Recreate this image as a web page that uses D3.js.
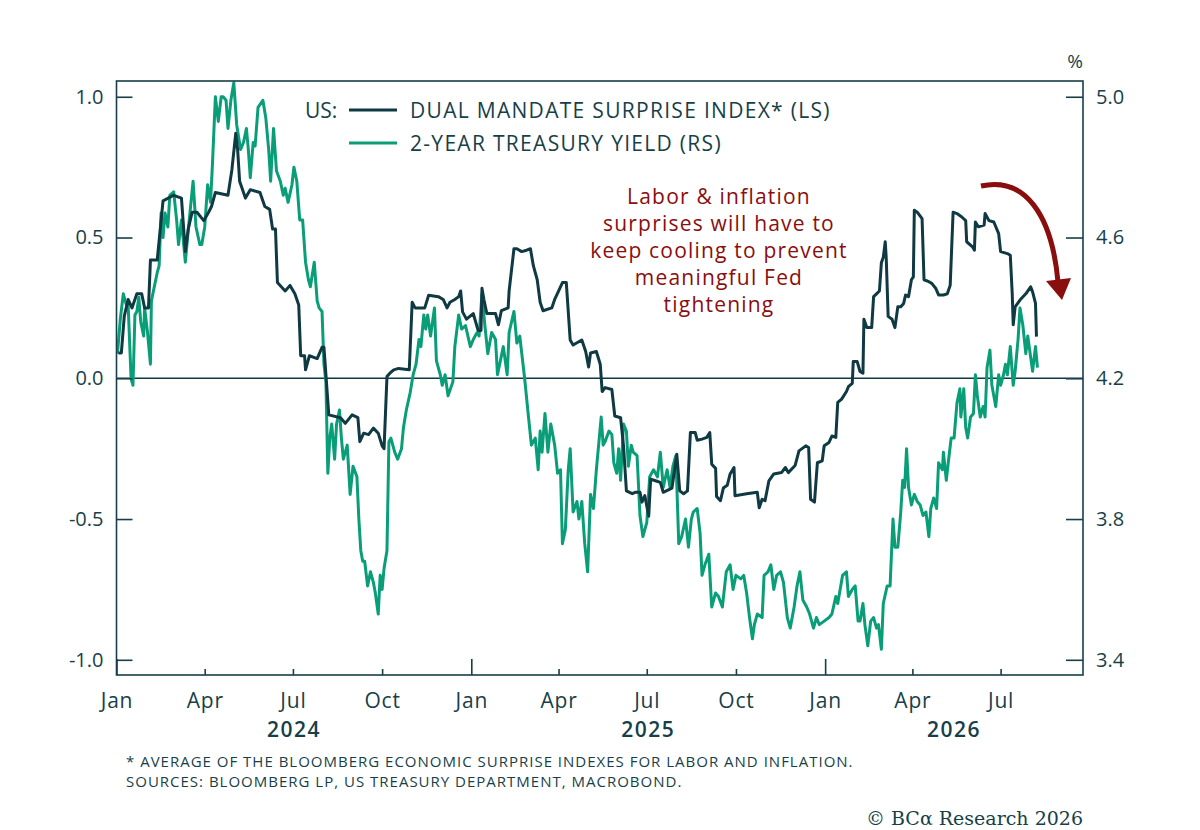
<!doctype html>
<html lang="en">
<head>
<meta charset="utf-8">
<title>US: Dual mandate surprise index vs 2-year Treasury yield</title>
<script src="https://d3js.org/d3.v7.min.js"></script>
<style>
  body { margin: 0; background: #fff; }
  text { font-family: "Open Sans", "Noto Sans", sans-serif; fill: #173f48; }
  .axis path { display: none; }
  .axis line { stroke: #173f48; stroke-width: 1.6px; }
  .axis text { font-size: 20px; fill: #173f48; font-family: "Open Sans", sans-serif; }
  .xaxis text { font-size: 21px; letter-spacing: 0.8px; }
</style>
</head>
<body>
<div id="chart"></div>
<script>
// ---- data (days since 1 Jan 2024) ----
// dual mandate surprise index, left scale
var darkDay = [2,5,8,12,16,21,26,29,33,35,42,48,59,67,71,74,78,83,90,95,98,102,115,119,123,125,127,133,138,148,153,158,161,164,166,174,179,184,188,190,194,195,199,207,212,214,219,231,236,243,249,251,255,260,265,270,274,276,279,282,286,291,302,305,308,318,322,332,337,341,344,349,353,355,357,361,368,373,376,377,379,382,391,394,397,404,405,410,413,418,423,427,430,434,437,440,449,452,456,460,464,468,471,480,484,487,489,495,499,501,504,511,514,520,523,526,532,535,540,542,545,549,551,556,561,564,573,578,581,585,589,592,597,599,604,609,612,614,618,619,623,626,630,633,637,638,650,661,663,666,669,673,678,686,690,693,700,704,711,714,716,720,723,728,730,735,738,742,744,748,753,755,759,760,764,767,770,771,774,779,781,784,787,789,791,793,794,796,800,803,806,809,812,814,817,820,822,823,826,831,833,838,841,845,848,853,857,860,863,867,872,876,877,883,885,886,889,895,896,900,905,910,912,919,922,924,925,927,932,938,943,945,948,949];
var darkVal = [0.09,0.09,0.22,0.28,0.25,0.30,0.30,0.25,0.25,0.42,0.42,0.63,0.65,0.64,0.45,0.53,0.59,0.59,0.56,0.59,0.61,0.66,0.65,0.74,0.87,0.81,0.70,0.64,0.67,0.66,0.61,0.60,0.53,0.53,0.34,0.31,0.33,0.30,0.26,0.08,0.08,0.03,0.08,0.07,0.11,0.11,-0.13,-0.14,-0.16,-0.13,-0.14,-0.225,-0.195,-0.20,-0.177,-0.195,-0.24,-0.25,0.006,0.018,0.03,0.035,0.03,0.27,0.25,0.25,0.295,0.29,0.28,0.25,0.27,0.28,0.29,0.31,0.236,0.21,0.23,0.17,0.17,0.32,0.28,0.23,0.23,0.19,0.24,0.25,0.31,0.46,0.46,0.45,0.455,0.46,0.40,0.35,0.27,0.24,0.25,0.28,0.31,0.34,0.34,0.136,0.118,0.136,0.095,0.04,0.09,0.095,0.05,-0.047,-0.033,-0.04,-0.134,-0.14,-0.24,-0.40,-0.41,-0.405,-0.405,-0.44,-0.417,-0.49,-0.358,-0.364,-0.37,-0.405,-0.39,-0.27,-0.40,-0.41,-0.40,-0.193,-0.193,-0.22,-0.216,-0.21,-0.193,-0.305,-0.32,-0.42,-0.435,-0.39,-0.38,-0.34,-0.317,-0.417,-0.41,-0.405,-0.46,-0.43,-0.435,-0.364,-0.34,-0.335,-0.317,-0.335,-0.31,-0.258,-0.24,-0.246,-0.43,-0.44,-0.30,-0.293,-0.24,-0.228,-0.205,-0.21,-0.086,-0.074,-0.047,-0.03,-0.018,0.06,0.06,0.024,0.018,0.21,0.18,0.18,0.29,0.30,0.31,0.41,0.43,0.485,0.43,0.22,0.21,0.18,0.254,0.254,0.266,0.296,0.29,0.35,0.36,0.597,0.59,0.567,0.35,0.343,0.337,0.32,0.296,0.296,0.30,0.33,0.59,0.585,0.573,0.56,0.485,0.467,0.455,0.555,0.538,0.544,0.585,0.56,0.555,0.514,0.45,0.443,0.437,0.30,0.19,0.254,0.278,0.30,0.325,0.307,0.266,0.148];

// 2-year treasury yield, %, right scale
var greenDay = [1,4,7,10,12,15,17,19,21,23,25,28,29,32,35,36,39,42,44,46,48,50,53,55,59,62,64,67,71,74,79,82,86,88,91,94,97,99,102,105,108,110,113,115,118,121,124,128,131,134,136,138,141,143,146,151,154,157,159,162,165,169,172,174,177,181,183,186,189,192,195,198,200,204,207,209,212,214,216,218,220,222,225,227,230,232,234,238,241,244,248,250,252,254,256,259,262,265,267,270,272,274,276,279,281,283,287,290,294,296,299,303,306,309,312,314,317,319,321,324,328,330,334,336,339,342,347,349,353,356,360,365,368,372,374,377,380,383,387,391,393,396,399,403,405,410,413,416,421,425,428,432,435,437,439,442,445,448,452,455,458,460,463,466,468,471,475,477,480,483,486,489,492,495,498,500,502,504,508,511,513,516,518,520,523,526,528,531,533,537,540,543,547,550,554,558,561,564,568,571,574,577,580,583,587,590,593,595,599,602,604,607,611,614,618,621,625,629,633,636,639,644,647,650,653,656,658,661,666,668,672,675,678,681,685,688,692,695,699,702,705,708,712,715,719,722,725,730,735,738,742,744,749,753,755,759,762,765,767,770,772,775,778,781,784,786,789,791,795,798,801,803,806,809,811,813,815,817,820,823,826,829,832,835,838,840,843,846,848,852,853,856,858,861,864,867,870,871,874,876,878,881,884,886,888,891,894,896,898,901,903,907,910,912,915,917,919,922,925,927,930,932,935,938,940,943,945,948,950];
var greenVal = [4.27,4.37,4.44,4.41,4.41,4.20,4.18,4.38,4.39,4.43,4.36,4.32,4.40,4.33,4.24,4.42,4.46,4.50,4.52,4.67,4.60,4.67,4.63,4.72,4.73,4.65,4.58,4.65,4.53,4.62,4.76,4.63,4.58,4.58,4.63,4.75,4.70,4.81,5.00,4.93,5.00,5.00,4.99,4.91,4.99,5.04,4.92,4.85,4.87,4.91,4.85,4.77,4.87,4.86,4.97,4.99,4.94,4.85,4.76,4.91,4.79,4.76,4.72,4.74,4.70,4.75,4.80,4.76,4.65,4.65,4.53,4.48,4.46,4.53,4.42,4.40,4.39,4.24,4.19,3.93,4.03,4.07,3.97,4.07,4.11,4.03,3.97,4.01,3.87,3.95,3.92,3.80,3.71,3.68,3.68,3.61,3.65,3.62,3.59,3.53,3.64,3.60,3.66,3.71,4.02,4.03,3.99,3.97,4.00,4.06,4.11,4.16,4.21,4.24,4.31,4.29,4.38,4.34,4.38,4.32,4.40,4.25,4.21,4.18,4.21,4.15,4.19,4.29,4.38,4.34,4.35,4.29,4.31,4.33,4.32,4.44,4.35,4.27,4.33,4.31,4.21,4.25,4.29,4.21,4.33,4.39,4.30,4.32,4.20,4.09,4.01,4.03,3.94,4.05,3.99,4.10,3.99,4.07,4.01,3.93,3.94,3.73,3.77,3.94,4.00,3.82,3.85,3.80,3.85,3.73,3.65,3.87,3.83,3.94,4.03,4.09,4.01,4.02,4.05,4.04,3.96,3.93,4.00,3.91,4.07,4.05,3.95,4.01,3.99,3.98,3.81,3.75,3.79,3.92,3.94,3.92,3.99,3.89,3.94,3.89,3.95,3.98,3.73,3.75,3.80,3.72,3.80,3.82,3.83,3.76,3.64,3.67,3.70,3.55,3.59,3.58,3.55,3.65,3.67,3.60,3.64,3.63,3.64,3.59,3.52,3.46,3.50,3.53,3.52,3.64,3.65,3.67,3.60,3.64,3.65,3.62,3.52,3.49,3.55,3.61,3.65,3.57,3.55,3.53,3.49,3.52,3.50,3.51,3.52,3.53,3.58,3.56,3.64,3.65,3.58,3.60,3.61,3.51,3.51,3.56,3.50,3.44,3.51,3.52,3.49,3.50,3.43,3.56,3.61,3.61,3.80,3.72,3.72,3.82,3.91,3.89,4.00,3.89,3.84,3.87,3.85,3.84,3.81,3.82,3.75,3.83,3.86,3.83,3.96,3.94,3.99,3.91,3.96,4.03,4.03,4.13,4.17,4.09,4.17,4.06,4.03,4.09,4.10,4.21,4.15,4.09,4.12,4.09,4.23,4.28,4.18,4.12,4.21,4.18,4.21,4.24,4.21,4.29,4.18,4.22,4.31,4.40,4.35,4.27,4.32,4.26,4.22,4.29,4.23];

var leftTicks = [-1.0, -0.5, 0.0, 0.5, 1.0];
var rightTicks = [3.4, 3.8, 4.2, 4.6, 5.0];
var yearLabels = ["2024", "2025", "2026"];
var legendLabels = ["DUAL MANDATE SURPRISE INDEX* (LS)", "2-YEAR TREASURY YIELD (RS)"];
var noteLines = ["Labor & inflation", "surprises will have to", "keep cooling to prevent", "meaningful Fed", "tightening"];
var footLines = ["* AVERAGE OF THE BLOOMBERG ECONOMIC SURPRISE INDEXES FOR LABOR AND INFLATION.",
                 "SOURCES: BLOOMBERG LP, US TREASURY DEPARTMENT, MACROBOND."];

var darkCol = "#0f3943", greenCol = "#0a9e78", redCol = "#8a0e0e", inkCol = "#173f48";

var W = 1200, H = 830;
var margin = {top: 81, right: 117, bottom: 155, left: 116.5};
var width = W - margin.left - margin.right,
    height = H - margin.top - margin.bottom;

var svg = d3.select("#chart").append("svg")
    .attr("width", W).attr("height", H);
var g = svg.append("g")
    .attr("transform", "translate(" + margin.left + "," + margin.top + ")");

var start = new Date(2024, 0, 1);
var toDate = function(d) { return d3.timeDay.offset(start, d); };
var fmt = function(d) { return d3.format(".1f")(d).replace("\u2212", "-"); };

var x = d3.scaleTime()
    .domain([start, new Date(2026, 8, 24)])
    .range([0, width]);
var yL = d3.scaleLinear().domain([-1.054, 1.056]).range([height, 0]);
var yR = d3.scaleLinear().domain([4.2 - 0.8 * 1.054, 4.2 + 0.8 * 1.056]).range([height, 0]);

// zero line
g.append("line")
  .attr("x1", 0).attr("x2", width)
  .attr("y1", yL(0)).attr("y2", yL(0))
  .attr("stroke", darkCol).attr("stroke-width", 1.5);

// series
var greenLine = d3.line()
  .x(function(d, i) { return x(toDate(greenDay[i])); })
  .y(function(d) { return yR(d); });
var darkLine = d3.line()
  .x(function(d, i) { return x(toDate(darkDay[i])); })
  .y(function(d) { return yL(d); });

g.append("path").datum(greenVal)
  .attr("d", greenLine).attr("fill", "none")
  .attr("stroke", greenCol).attr("stroke-width", 3).attr("stroke-linejoin", "round");
g.append("path").datum(darkVal)
  .attr("d", darkLine).attr("fill", "none")
  .attr("stroke", darkCol).attr("stroke-width", 3).attr("stroke-linejoin", "round");

// frame
g.append("rect")
  .attr("width", width).attr("height", height)
  .attr("fill", "none").attr("stroke", inkCol).attr("stroke-width", 1.6);

// left axis, ticks pointing in
g.append("g").attr("class", "axis")
  .call(d3.axisLeft(yL).tickValues(leftTicks).tickSize(-16).tickPadding(13)
        .tickFormat(fmt));

// right axis
g.append("g").attr("class", "axis")
  .attr("transform", "translate(" + width + ",0)")
  .call(d3.axisRight(yR).tickValues(rightTicks).tickSize(-17).tickPadding(13)
        .tickFormat(fmt));

g.append("text")
  .attr("x", width - 8).attr("y", -13)
  .attr("text-anchor", "middle")
  .style("font-size", "19px")
  .text("%");

// bottom axis: quarter ticks, longer at year starts
var quarters = d3.timeMonth.every(3).range(start, x.domain()[1]);
var xAxis = g.append("g").attr("class", "axis xaxis")
  .attr("transform", "translate(0," + height + ")")
  .call(d3.axisBottom(x).tickValues(quarters).tickSize(-6).tickPadding(18)
        .tickFormat(d3.timeFormat("%b")));
xAxis.selectAll(".tick line")
  .attr("y2", function(d) { return d.getMonth() === 0 ? -16 : -6; })
  .attr("stroke-width", function(d) { return d.getMonth() === 0 ? 2.6 : 2; });

// year labels centred on the visible part of each year
yearLabels.forEach(function(yr) {
  var a = Math.max(0, x(new Date(+yr, 0, 1)));
  var b = Math.min(width, x(new Date(+yr + 1, 0, 1)));
  g.append("text")
    .attr("x", (a + b) / 2).attr("y", height + 62)
    .attr("text-anchor", "middle")
    .style("font-size", "21px").style("font-weight", "600")
    .style("letter-spacing", "1.5px")
    .text(yr);
});

// legend
svg.append("text").attr("x", 305).attr("y", 118)
  .style("font-size", "21px").text("US:");
[darkCol, greenCol].forEach(function(c, i) {
  var yy = 110 + i * 33;
  svg.append("line")
    .attr("x1", 349).attr("x2", 397).attr("y1", yy).attr("y2", yy)
    .attr("stroke", c).attr("stroke-width", 3);
  svg.append("text").attr("x", 410).attr("y", yy + 7.5)
    .style("font-size", "21px").style("letter-spacing", "1.3px")
    .text(legendLabels[i]);
});

// annotation
noteLines.forEach(function(t, i) {
  svg.append("text")
    .attr("x", 719).attr("y", 204 + i * 27)
    .attr("text-anchor", "middle")
    .style("font-size", "21px").style("letter-spacing", "1.2px")
    .style("fill", redCol)
    .text(t);
});
svg.append("path")
  .attr("d", "M981,186 C1025,176 1052,215 1058,282")
  .attr("fill", "none").attr("stroke", redCol).attr("stroke-width", 5);
svg.append("path")
  .attr("d", "M1046,281 L1071,278 L1062,300 Z")
  .attr("fill", redCol);

// footnotes
footLines.forEach(function(t, i) {
  svg.append("text")
    .attr("x", 126).attr("y", 767 + i * 20)
    .style("font-size", "15px").style("letter-spacing", "1px")
    .text(t);
});

svg.append("text")
  .attr("x", 1083).attr("y", 825)
  .attr("text-anchor", "end")
  .style("font-family", "'DejaVu Serif', 'Liberation Serif', serif")
  .style("font-size", "19px")
  .text("\u00a9 BC\u03b1 Research 2026");
</script>
</body>
</html>
